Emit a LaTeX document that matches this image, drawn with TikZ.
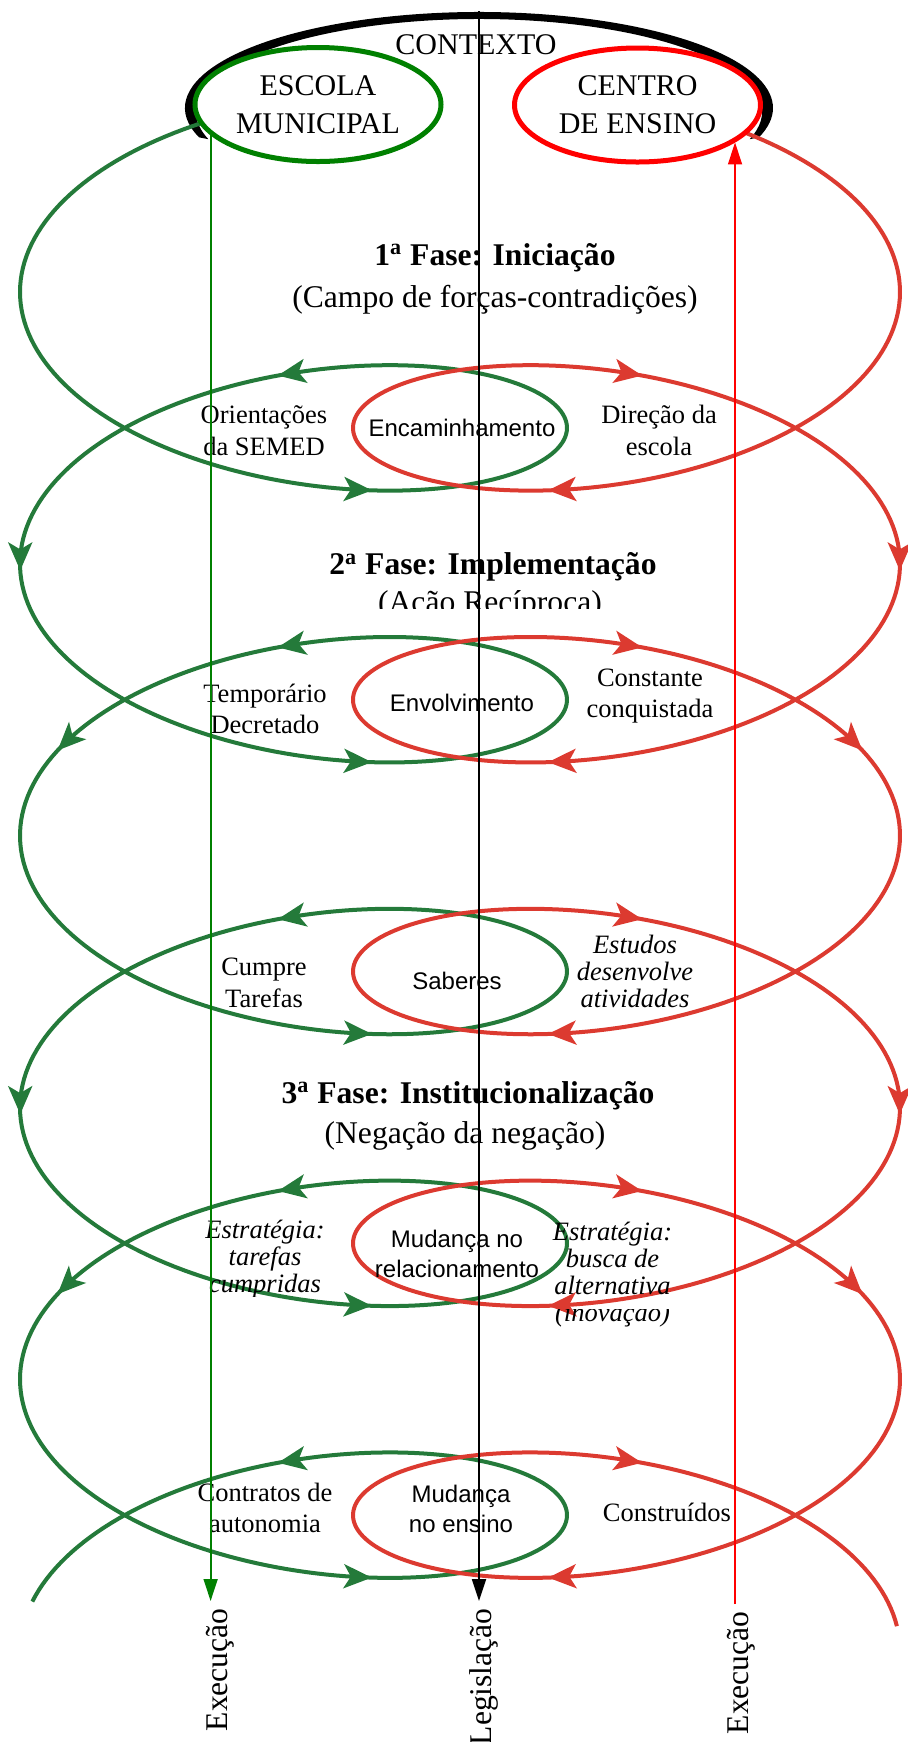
\documentclass[tikz,border=0pt]{standalone}
\usepackage{fontspec}
\setmainfont{Liberation Serif}
\newfontfamily\arialfont{Liberation Sans}
\usetikzlibrary{calc}
\usetikzlibrary{arrows.meta}
\usetikzlibrary{shapes.geometric}
\definecolor{escgreen}{RGB}{0,128,0}
\definecolor{cenred}{RGB}{255,0,0}
\definecolor{spgreen}{RGB}{36,122,58}
\definecolor{spred}{RGB}{220,58,48}

\begin{document}
\begin{tikzpicture}[
    x=0.5pt, y=-0.5pt,
    declare function={
        spgx(\t)=293.5-273.5*cos(\t r);
        spry(\t)=292+43.26*\t+123*sin(\t r);
        sprx(\t)=920-spgx(\t);
    },
    ctxell/.style={ellipse, fill=white, line width=2.5pt, minimum width=123pt,
        minimum height=57pt, inner sep=0pt, align=center,
        font=\fontsize{15}{19}\selectfont},
    fase/.style={anchor=base, inner sep=0pt, font=\fontsize{15.8}{19}\selectfont},
    lbl/.style={align=center, inner sep=0pt, font=\fontsize{13.25}{15.9}\selectfont},
    itlbl/.style={align=center, inner sep=0pt, font=\fontsize{13.25}{13.6}\selectfont\itshape},
    sslbl/.style={align=center, inner sep=0pt, font=\arialfont\fontsize{12}{15.25}\selectfont},
    vlab/.style={rotate=90, anchor=base east, inner sep=3.5pt,
        font=\fontsize{15.8}{18}\selectfont},
    spiral/.style={line width=2pt, line join=round},
    midtip/.style={-{Stealth[length=14pt, width=12pt, inset=3.5pt]}},
    vline/.style={line width=0.9pt, -{Triangle[length=11pt, width=7pt]}}
]
    \useasboundingbox (0,0) rectangle (907,1742);

    % contexto
    \coordinate (ctxo) at (479,108);
    \coordinate (ctxi) at (479,112);
    \fill ($(ctxo)+(162.2:294 and 96)$)
        arc[start angle=162.2, end angle=377.8, x radius=294, y radius=96]
        -- ($(ctxi)+(377:283 and 93)$)
        arc[start angle=377, end angle=163, x radius=283, y radius=93] -- cycle;

    % espirais
    \draw[spiral, spgreen] plot[domain=-1.3:31.12, samples=900] ({spgx(\x)},{spry(\x)});
    \draw[spiral, spred] plot[domain=-1.3:31.27, samples=900] ({sprx(\x)},{spry(\x)});
    \foreach \p in {1.862, 8.145, 14.428, 20.711, 26.994,
                    4.770, 11.053, 17.336, 23.619, 29.902,
                    6.323, 18.890, 12.036, 24.603} {
        \draw[spiral, spgreen, midtip] ({spgx(\p-0.08)},{spry(\p-0.08)}) -- ({spgx(\p)},{spry(\p)});
        \draw[spiral, spred, midtip] ({sprx(\p-0.08)},{spry(\p-0.08)}) -- ({sprx(\p)},{spry(\p)});
    }

    \node[ctxell, draw=escgreen] (escola) at (318,104.5) {ESCOLA\\MUNICIPAL};
    \node[ctxell, draw=cenred] (centro) at (637.5,105) {CENTRO\\DE ENSINO};
    \node[font=\fontsize{15}{19}\selectfont, inner sep=0pt] (contexto) at (476,45) {CONTEXTO};

    \node[fase] (fase1) at (495,265) {\textbf{1\textsuperscript{a} Fase: Iniciação}};
    \node[fase] (sub1) at (495,307) {(Campo de forças-contradições)};
    \node[fase] (fase2) at (493,574.5) {\textbf{2\textsuperscript{a} Fase: Implementação}};
    \begin{scope}
        \clip (300,585) rectangle (700,608);
        \node[fase] (sub2) at (490,612.5) {(Ação Recíproca)};
    \end{scope}
    \node[fase] (fase3) at (468,1103) {\textbf{3\textsuperscript{a} Fase: Institucionalização}};
    \node[fase] (sub3) at (465,1143) {(Negação da negação)};

    \node[lbl] (orient) at (264,430.5) {Orientações\\da SEMED};
    \node[lbl] (direcao) at (659,430.5) {Direção da\\escola};
    \node[sslbl] (encam) at (462,428) {Encaminhamento};

    \node[lbl] (tempor) at (265,709) {Temporário\\Decretado};
    \node[lbl] (constante) at (650,696) {Constante\\conquistada};
    \node[sslbl] (envolv) at (462,703) {Envolvimento};

    \node[lbl] (cumpre) at (264,983) {Cumpre\\Tarefas};
    \node[itlbl] (estudos) at (635,971.5) {Estudos\\desenvolve\\atividades};
    \node[sslbl] (saberes) at (457,981) {Saberes};

    \begin{scope}
        \clip (190,1200) rectangle (340,1296);
        \node[itlbl] (estrat1) at (265,1259) {Estratégia:\\tarefas\\cumpridas};
    \end{scope}
    \node[sslbl] (mudrel) at (457,1254) {Mudança no\\relacionamento};
    \begin{scope}
        \clip (540,1210) rectangle (690,1299) (540,1309) rectangle (690,1340);
        \node[itlbl] (estrat2) at (612.5,1274.5) {Estratégia:\\busca de\\alternativa\\(inovação)};
    \end{scope}

    \node[lbl] (contratos) at (265,1508) {Contratos de\\autonomia};
    \node[sslbl] (mudens) at (461,1509) {Mudança\\no ensino};
    \node[lbl] (construidos) at (667,1512.7) {Construídos};

    \node[vlab] (exe1) at (227,1601) {Execução};
    \node[vlab] (leg) at (491,1601) {Legislação};
    \node[vlab] (exe2) at (748,1604) {Execução};

    \coordinate (legtop) at (479,11);
    \draw[vline, escgreen] (escola.196) -- (escola.196 |- exe1.east);
    \draw[vline, black] (legtop) -- (legtop |- leg.east);
    \draw[vline, cenred] (centro.-21 |- exe2.east) -- (centro.-21);
\end{tikzpicture}
\end{document}
